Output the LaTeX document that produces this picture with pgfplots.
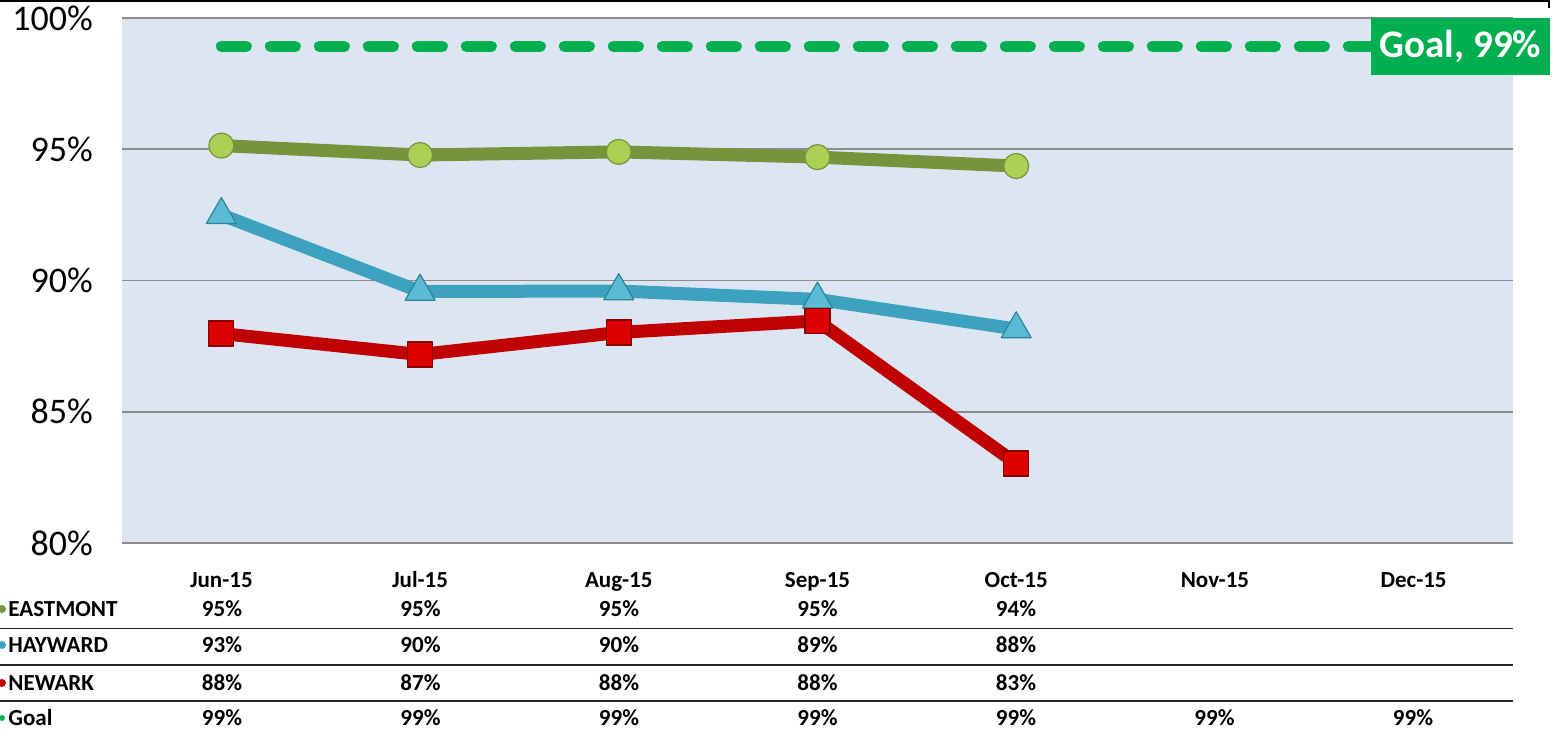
\documentclass[border=0pt]{standalone}
\usepackage{fontspec}
\setmainfont{Carlito}
\usepackage{pgfplots}
\pgfplotsset{compat=1.18}
\usepackage{pgfplotstable}
\definecolor{bg}{HTML}{DCE6F2}
\definecolor{eastline}{HTML}{77933C}
\definecolor{eastmark}{HTML}{AECF55}
\definecolor{hayline}{HTML}{3CA2BF}
\definecolor{haymark}{HTML}{5BBAD5}
\definecolor{newline}{HTML}{C00000}
\definecolor{newmark}{HTML}{DD0000}
\definecolor{goal}{HTML}{00B050}
\definecolor{gridc}{HTML}{8C8C8C}

\pgfplotstableread{
x y
0 95.14
1 94.78
2 94.90
3 94.70
4 94.36
}\eastmont
\pgfplotstableread{
x y
0 92.50
1 89.58
2 89.60
3 89.28
4 88.15
}\hayward
\pgfplotstableread{
x y
0 87.98
1 87.18
2 88.02
3 88.46
4 83.03
}\newark
\pgfplotstableread{
x y
0 98.92
1 98.92
2 98.92
3 98.92
4 98.92
5 98.92
6 98.92
}\goal

\begin{document}
\begin{tikzpicture}
\useasboundingbox (-61pt,-93pt) rectangle (717.5pt,271.5pt);
\begin{axis}[
  at={(0,0)}, anchor=south west,
  scale only axis, width=695.5pt, height=262.5pt,
  xmin=-0.5, xmax=6.5, ymin=80, ymax=100,
  axis background/.style={fill=bg},
  axis line style={draw=none},
  ytick={80,85,90,95,100},
  yticklabels={80\%,85\%,90\%,95\%,100\%},
  xtick={0,1,2,3,4,5,6},
  xticklabels={Jun-15,Jul-15,Aug-15,Sep-15,Oct-15,Nov-15,Dec-15},
  ymajorgrids, major grid style={draw=gridc, line width=0.75pt},
  major tick length=0pt,
  yticklabel style={font=\fontsize{18}{18}\selectfont, anchor=east, xshift=-11pt},
  xticklabel style={font=\bfseries\fontsize{11.5}{12}\selectfont, anchor=base, yshift=-22pt},
  clip=false,
]
\addplot[goal, line width=5.5pt, line cap=round, dash pattern=on 12.5pt off 12pt, mark=none] table {\goal};
\addplot[eastline, line width=6.5pt, line join=round, mark=*, mark size=6.25pt,
  mark options={solid, fill=eastmark, draw=eastline, line width=0.6pt}] table {\eastmont};
\addplot[hayline, line width=6.5pt, line join=round, mark=triangle*, mark size=8.66pt,
  mark options={solid, fill=haymark, draw=hayline!80!black, line width=0.6pt}] table {\hayward};
\addplot[newline, line width=6.5pt, line join=round, mark=square*, mark size=6.25pt,
  mark options={solid, fill=newmark, draw=newline!70!black, line width=0.6pt}] table {\newark};
\end{axis}
\begin{scope}[x=0.5pt, y=-0.5pt, shift={(-61pt,271.5pt)}]
  % frame corner at top
  \draw[line width=1pt, black] (0,1.5) -- (1549,1.5) -- (1549,8);
  % goal label
  \node[fill=goal, text=white, font=\bfseries\fontsize{19.5}{20}\selectfont,
        minimum width=89.5pt, minimum height=28.5pt, inner sep=0pt] at (1460.5,46.5) {Goal, 99\%};
  % table separators
  \foreach \yy in {628.5,665,701} {\draw[line width=0.9pt, black!85] (0,\yy) -- (1513,\yy);}
  % legend dots
  \fill[eastline] (2,609) circle (4);
  \fill[hayline] (2,645) circle (4);
  \fill[newline] (2,683) circle (4);
  \fill[goal] (2,718) circle (3);
  \begin{scope}[every node/.style={font=\bfseries\fontsize{11.5}{12}\selectfont, inner sep=0pt}]
    \node[anchor=base west] at (8,616.5) {EASTMONT};
    \node[anchor=base west] at (8,652.5) {HAYWARD};
    \node[anchor=base west] at (8,690.5) {NEWARK};
    \node[anchor=base west] at (8,725.5) {Goal};
    \foreach \v [count=\i from 0] in {95,95,95,95,94} {\node[anchor=base] at (222+198.5*\i,616.5) {\v\%};}
    \foreach \v [count=\i from 0] in {93,90,90,89,88} {\node[anchor=base] at (222+198.5*\i,652.5) {\v\%};}
    \foreach \v [count=\i from 0] in {88,87,88,88,83} {\node[anchor=base] at (222+198.5*\i,690.5) {\v\%};}
    \foreach \v [count=\i from 0] in {99,99,99,99,99,99,99} {\node[anchor=base] at (222+198.5*\i,725.5) {\v\%};}
  \end{scope}
\end{scope}
\end{tikzpicture}
\end{document}
